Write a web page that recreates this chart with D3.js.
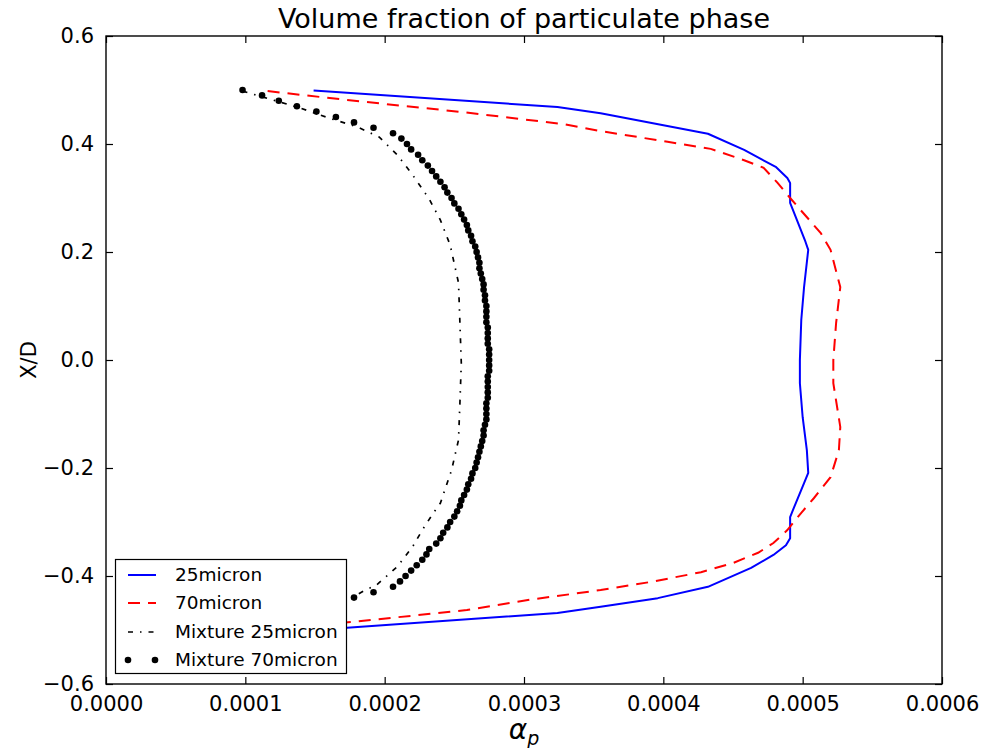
<!DOCTYPE html>
<html>
<head>
<meta charset="utf-8">
<script src="https://cdn.jsdelivr.net/npm/d3@7"></script>
<style>
  html, body { margin: 0; padding: 0; background: #fff; }
  svg { display: block; }
  text { font-family: "DejaVu Sans", sans-serif; fill: #000; }
</style>
</head>
<body>
<svg id="chart" width="994" height="748"></svg>
<script>
// ---------------- data (x values in units of 1e-4) ----------------
const xTicks = [0.0000, 0.0001, 0.0002, 0.0003, 0.0004, 0.0005, 0.0006];
const yTicks = [0.6, 0.4, 0.2, 0.0, -0.2, -0.4, -0.6];
const seriesNames = ["25micron", "70micron", "Mixture 25micron", "Mixture 70micron"];

const y25 = [0.499,0.4685,0.457,0.419,0.389,0.357,0.337,0.328,0.291,0.278,0.219,0.204,0.135,0.074,0.000,-0.043,-0.106,-0.167,-0.209,-0.228,-0.278,-0.291,-0.330,-0.343,-0.361,-0.385,-0.420,-0.441,-0.457,-0.4685,-0.496,-0.500];
const x25 = [1.49,3.24,3.55,4.32,4.58,4.81,4.89,4.91,4.91,4.93,5.02,5.04,5.01,4.99,4.98,4.98,5.00,5.03,5.04,5.01,4.93,4.91,4.91,4.88,4.79,4.63,4.32,3.96,3.55,3.24,1.73,1.49];

const y70 = [0.498,0.4815,0.459,0.437,0.424,0.404,0.391,0.370,0.356,0.328,0.300,0.235,0.204,0.135,0.0685,0.0,-0.043,-0.124,-0.167,-0.217,-0.256,-0.283,-0.315,-0.339,-0.357,-0.376,-0.393,-0.411,-0.426,-0.444,-0.463,-0.485,-0.498];
const x70 = [1.16,1.73,2.56,3.28,3.55,4.03,4.34,4.58,4.72,4.82,4.91,5.13,5.20,5.27,5.24,5.22,5.22,5.27,5.26,5.20,5.08,4.99,4.89,4.79,4.68,4.50,4.27,3.91,3.55,3.04,2.59,1.77,1.16];

const yMix25 = [0.498,0.467,0.448,0.432,0.413,0.380,0.343,0.298,0.259,0.213,0.143,0.069,-0.006,-0.080,-0.148,-0.204,-0.265,-0.283,-0.315,-0.346,-0.383,-0.417,-0.426,-0.435];
const xMix25 = [0.98,1.39,1.60,1.80,1.96,2.09,2.20,2.32,2.40,2.47,2.53,2.54,2.55,2.54,2.53,2.48,2.40,2.35,2.27,2.20,2.09,1.94,1.86,1.80];

const yMix70 = [0.50,0.49,0.48,0.47,0.46,0.45,0.44,0.43,0.42,0.41,0.40,0.39,0.38,0.37,0.36,0.35,0.34,0.33,0.32,0.31,0.30,0.29,0.28,0.27,0.26,0.25,0.24,0.23,0.22,0.21,0.20,0.19,0.18,0.17,0.16,0.15,0.14,0.13,0.12,0.11,0.10,0.09,0.08,0.07,0.06,0.05,0.04,0.03,0.02,0.01,0.00,-0.01,-0.02,-0.03,-0.04,-0.05,-0.06,-0.07,-0.08,-0.09,-0.10,-0.11,-0.12,-0.13,-0.14,-0.15,-0.16,-0.17,-0.18,-0.19,-0.20,-0.21,-0.22,-0.23,-0.24,-0.25,-0.26,-0.27,-0.28,-0.29,-0.30,-0.31,-0.32,-0.33,-0.34,-0.35,-0.36,-0.37,-0.38,-0.39,-0.40,-0.41,-0.42,-0.43,-0.44];
const xMix70 = [0.98,1.12,1.24,1.37,1.51,1.65,1.78,1.92,2.06,2.12,2.16,2.19,2.24,2.27,2.31,2.34,2.37,2.40,2.43,2.45,2.48,2.50,2.53,2.55,2.57,2.59,2.60,2.62,2.63,2.65,2.66,2.67,2.68,2.68,2.69,2.70,2.71,2.71,2.72,2.72,2.73,2.73,2.73,2.73,2.74,2.74,2.74,2.74,2.75,2.75,2.75,2.75,2.75,2.74,2.74,2.74,2.74,2.74,2.73,2.73,2.73,2.73,2.72,2.71,2.71,2.70,2.69,2.68,2.67,2.66,2.65,2.63,2.62,2.60,2.59,2.57,2.55,2.54,2.52,2.50,2.47,2.45,2.42,2.40,2.37,2.32,2.30,2.27,2.23,2.19,2.15,2.11,2.06,1.92,1.78];

// ---------------- layout ----------------
const svg = d3.select("#chart");
const L = 106, R = 942, T = 36, B = 684;
const x = d3.scaleLinear().domain([0, 0.0006]).range([L, R]);
const y = d3.scaleLinear().domain([-0.6, 0.6]).range([B, T]);

const toPts = (xs, ys) => xs.map((v, i) => [v * 1e-4, ys[i]]);
const line = d3.line().x(d => x(d[0])).y(d => y(d[1]));

const plot = svg.append("g");

plot.append("path").datum(toPts(x25, y25)).attr("d", line)
  .attr("fill", "none").attr("stroke", "#0000ff").attr("stroke-width", 2).attr("stroke-linejoin", "round");
plot.append("path").datum(toPts(x70, y70)).attr("d", line)
  .attr("fill", "none").attr("stroke", "#ff0000").attr("stroke-width", 2)
  .attr("stroke-dasharray", "12,8");
plot.append("path").datum(toPts(xMix25, yMix25)).attr("d", line)
  .attr("fill", "none").attr("stroke", "#000").attr("stroke-width", 1.7)
  .attr("stroke-dasharray", "5,7,1.5,7");
plot.selectAll("circle.m70").data(toPts(xMix70, yMix70)).enter().append("circle")
  .attr("class", "m70")
  .attr("cx", d => x(d[0])).attr("cy", d => y(d[1])).attr("r", 3.3).attr("fill", "#000");

// ---------------- axes ----------------
const fmtX = d3.format(".4f");
const fmtY = v => (v < 0 ? "\u2212" : "") + Math.abs(v).toFixed(1);

const axB = d3.axisBottom(x).tickValues(xTicks).tickFormat(fmtX).tickSizeInner(-7).tickSizeOuter(0).tickPadding(12);
const axT = d3.axisTop(x).tickValues(xTicks).tickFormat("").tickSizeInner(-7).tickSizeOuter(0);
const axLft = d3.axisLeft(y).tickValues(yTicks).tickFormat(fmtY).tickSizeInner(-7).tickSizeOuter(0).tickPadding(12);
const axRt = d3.axisRight(y).tickValues(yTicks).tickFormat("").tickSizeInner(-7).tickSizeOuter(0);

function styleAxis(g) {
  g.select(".domain").remove();
  g.selectAll(".tick line").attr("stroke", "#000").attr("stroke-width", 1.2);
  g.selectAll(".tick text").attr("font-family", "DejaVu Sans").attr("font-size", 21).attr("fill", "#000");
}
svg.append("g").attr("transform", `translate(0,${B})`).call(axB).call(styleAxis);
svg.append("g").attr("transform", `translate(0,${T})`).call(axT).call(styleAxis);
svg.append("g").attr("transform", `translate(${L},0)`).call(axLft).call(styleAxis);
svg.append("g").attr("transform", `translate(${R},0)`).call(axRt).call(styleAxis);

svg.append("rect").attr("x", L).attr("y", T).attr("width", R - L).attr("height", B - T)
  .attr("fill", "none").attr("stroke", "#000").attr("stroke-width", 1.4);

// ---------------- titles ----------------
svg.append("text").attr("x", (L + R) / 2).attr("y", 28).attr("text-anchor", "middle")
  .attr("font-size", 27).text("Volume fraction of particulate phase");

svg.append("text").attr("transform", `translate(36,${(T + B) / 2}) rotate(-90)`)
  .attr("text-anchor", "middle").attr("font-size", 21).text("X/D");

const xl = svg.append("text").attr("x", (L + R) / 2).attr("y", 739).attr("text-anchor", "middle")
  .attr("font-family", "DejaVu Serif").attr("font-style", "italic").attr("font-size", 28);
xl.append("tspan").text("\u03b1");
xl.append("tspan").attr("font-size", 19).attr("dy", 6).text("p");

// ---------------- legend ----------------
const lg = svg.append("g");
lg.append("rect").attr("x", 115.5).attr("y", 559.5).attr("width", 231).attr("height", 114)
  .attr("fill", "#fff").attr("stroke", "#000").attr("stroke-width", 1.2);
const rowY = [575, 603, 632, 660];
const styles = [
  {stroke: "#0000ff", w: 2, dash: null},
  {stroke: "#ff0000", w: 2, dash: "12,8"},
  {stroke: "#000", w: 1.7, dash: "5,7,1.5,7"},
  null
];
seriesNames.forEach((name, i) => {
  const s = styles[i];
  if (s) {
    lg.append("line").attr("x1", 128).attr("x2", 156).attr("y1", rowY[i]).attr("y2", rowY[i])
      .attr("stroke", s.stroke).attr("stroke-width", s.w).attr("stroke-dasharray", s.dash);
  } else {
    [128, 155].forEach(cx => lg.append("circle").attr("cx", cx).attr("cy", rowY[i]).attr("r", 3.3).attr("fill", "#000"));
  }
  lg.append("text").attr("x", 175).attr("y", rowY[i]).attr("dy", "0.35em")
    .attr("font-size", 18.5).text(name);
});
</script>
</body>
</html>
